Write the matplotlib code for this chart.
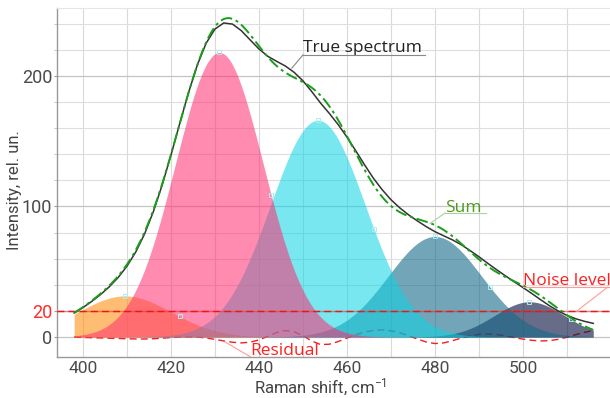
import numpy as np
import matplotlib
matplotlib.use('Agg')
import matplotlib.pyplot as plt
from matplotlib.ticker import MultipleLocator

plt.rcParams['font.family'] = ['Roboto', 'DejaVu Sans']
plt.rcParams['mathtext.fontset'] = 'custom'
plt.rcParams['mathtext.rm'] = 'Roboto'
plt.rcParams['mathtext.default'] = 'regular'

# fitted peaks (center, height, sigma)
peak_centers = [409.5, 431.0, 453.4, 480.0, 501.5]
peak_heights = [31.5, 218.0, 166.0, 77.0, 27.0]
peak_sigmas = [10.6, 10.0, 10.8, 10.6, 8.0]
peak_colors = ['#FF8800', '#FF2C6F', '#0AD5E4', '#156A8A', '#0A1240']
peak_alphas = [0.55, 0.55, 0.55, 0.6, 0.62]
draw_order = [0, 4, 3, 2, 1]

# residual (true spectrum - sum)
residual_x = list(range(398, 517, 2))
residual_y = [0, -0.3, -0.5, -0.7, -0.9, -1.1, -1.3, -1.5, -1.5, -1.3,
              -0.9, -0.4, 0, 0.2, 0, -0.7, -1.8, -3.0, -4.0, -4.5,
              -4.0, -2.2, 0.5, 3.5, 5.0, 4.0, 1.0, -3.0, -5.8, -5.5,
              -3.5, -0.8, 1.8, 3.8, 5.0, 5.5, 4.8, 3.3, 1.0, -1.5,
              -3.8, -5.0, -4.5, -2.8, -0.8, 0.8, 2.0, 2.3, 1.9, 0.9,
              -0.4, -1.6, -2.5, -3.0, -2.8, -1.8, -0.2, 1.8, 3.6, 5.0]

noise_level = 20


def gauss(x, c, h, s):
    return h * np.exp(-(x - c) ** 2 / (2 * s ** 2))


x = np.linspace(398, 516, 500)
comps = [gauss(x, c, h, s) for c, h, s in zip(peak_centers, peak_heights, peak_sigmas)]
total = np.sum(comps, axis=0)

rx = np.array(residual_x, dtype=float)
true_spec = np.sum([gauss(rx, c, h, s) for c, h, s in zip(peak_centers, peak_heights, peak_sigmas)], axis=0) + np.array(residual_y)

fig = plt.figure(figsize=(6.1, 3.98), dpi=100)
ax = fig.add_axes([57 / 610, 41 / 398, 553 / 610, 349 / 398])

# residual sits under the peak fills
ax.plot(rx, residual_y, color='#F02020', lw=1.0, ls=(0, (5, 3)), zorder=1.5)

for i in draw_order:
    ax.fill_between(x, 0, comps[i], color=peak_colors[i], alpha=peak_alphas[i], lw=0, zorder=2)

# small control markers at peak top and right half-height
for c, h, s in zip(peak_centers, peak_heights, peak_sigmas):
    xh = c + s * np.sqrt(2 * np.log(2))
    ax.plot([c, xh], [h, h / 2], ls='none', marker='s', ms=3, mfc='none',
            mec='#A8EEF5', mew=0.7, zorder=3)

ax.axhline(noise_level, color='#FF3030', lw=1.0, alpha=0.45, zorder=4)
ax.axhline(noise_level, color='#E81818', lw=1.0, ls=(0, (5, 3)), zorder=4)

ax.plot(rx, true_spec, color='#333333', lw=1.1, zorder=5)
ax.plot(x, total, color='#1A9E1A', lw=1.4, ls=(0, (6, 2, 1.5, 2)), zorder=6)

ax.set_xlim(394.1, 519.8)
ax.set_ylim(-15.3, 252)

ax.xaxis.set_major_locator(MultipleLocator(20))
ax.xaxis.set_minor_locator(MultipleLocator(10))
ax.set_yticks([0, 20, 100, 200])
ax.set_yticklabels(['0', '20', '100', '200'])
ax.yaxis.set_minor_locator(MultipleLocator(20))

ax.grid(which='both', axis='x', color='#DADADA', lw=0.8, zorder=0)
ax.grid(which='minor', axis='y', color='#DEDEDE', lw=0.8, zorder=0)
ax.grid(which='major', axis='y', color='#C4C4C4', lw=0.9, zorder=0)
ax.set_axisbelow(True)

ax.tick_params(axis='x', which='both', length=0, pad=3, labelsize=12.5, labelcolor='#4A4A4A')
ax.tick_params(axis='y', which='major', length=2.5, pad=1, labelsize=13, labelcolor='#4A4A4A', color='#999999')
ax.tick_params(axis='y', which='minor', length=2.5, color='#BBBBBB')
for lab, tk in zip(ax.get_yticklabels(), ax.yaxis.get_major_ticks()):
    if lab.get_text() == '20':
        lab.set_color('#FF2A2A')
        tk.tick1line.set_color('#FF2A2A')

for side in ['left', 'bottom']:
    ax.spines[side].set_color('#999999')
    ax.spines[side].set_linewidth(1.0)
ax.spines['top'].set_color('#E6E6E6')
ax.spines['right'].set_visible(False)

fig.text(320 / 610, 1 - 387 / 398, 'Raman shift, cm$^{-1}$', ha='center', va='center',
         fontsize=12, color='#444444')
fig.text(15 / 610, 1 - 190 / 398, 'Intensity, rel. un.', ha='center', va='center',
         rotation=90, fontsize=12, color='#444444')

ann_font = ['Open Sans', 'DejaVu Sans']
# True spectrum
ax.text(450, 218, 'True spectrum', fontsize=12.5, color='#222222', family=ann_font, va='baseline', zorder=7)
ax.plot([450, 477.7], [216, 216], color='#888888', lw=0.8, zorder=7)
ax.plot([450, 447.5], [216, 206], color='#888888', lw=0.8, zorder=7)
# Sum
ax.text(482.3, 96, 'Sum', fontsize=12.5, color='#4E9A1E', family=ann_font, va='baseline', zorder=7)
ax.plot([482.3, 491.6], [95, 95], color='#A8D49A', lw=0.8, zorder=7)
ax.plot([482.3, 478.9], [95, 87], color='#A8D49A', lw=0.8, zorder=7)
# Noise level
ax.text(500, 40, 'Noise level', fontsize=12.5, color='#FF2020', family=ann_font, va='baseline', zorder=7)
ax.plot([500, 520], [38.3, 38.3], color='#FF9A9A', lw=0.8, zorder=7)
ax.plot([519.3, 512.3], [38.3, noise_level], color='#FF9A9A', lw=0.8, zorder=7)
# Residual
ax.text(438, -13.8, 'Residual', fontsize=12.5, color='#FF2020', family=ann_font, va='baseline', zorder=7)
ax.plot([438, 432.3], [-15, -3.8], color='#FF9A9A', lw=0.8, zorder=7)

fig.savefig('out.png', dpi=100)
